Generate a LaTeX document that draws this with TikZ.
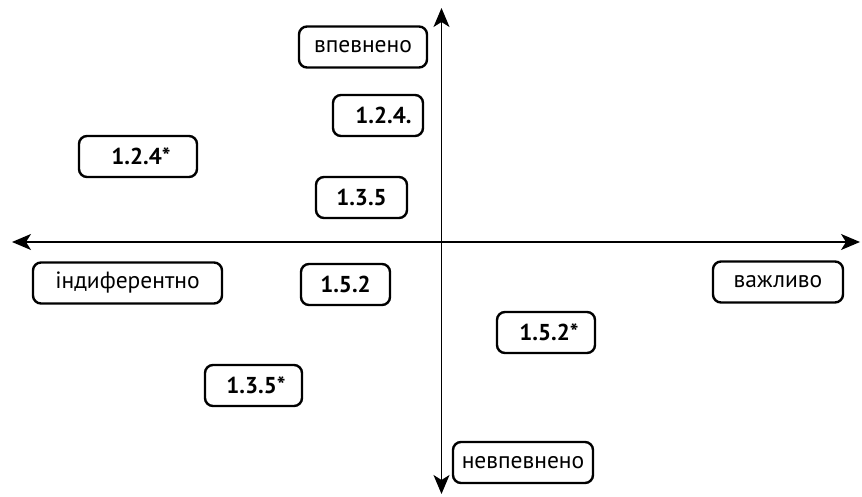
\documentclass[tikz,border=0pt]{standalone}
\usepackage{fontspec}
\setmainfont{PT Sans}
\usetikzlibrary{arrows.meta}
\tikzset{
  box/.style={draw, line width=2.4pt, rounded corners=8pt, inner sep=0pt, minimum height=41pt, font=\fontsize{23.5}{27}\selectfont},
  numbox/.style={box, font=\fontsize{23}{27}\selectfont\bfseries},
  axis/.style={line width=1.3pt, {Stealth[length=19pt,width=16pt,inset=5pt]}-{Stealth[length=19pt,width=16pt,inset=5pt]}}
}
\begin{document}
\begin{tikzpicture}[x=1pt,y=-1pt]
\useasboundingbox (0,0) rectangle (862,497);
\coordinate (top) at (441.5,8);
\coordinate (bottom) at (441.5,494);
\coordinate (left) at (12,242);
\coordinate (right) at (860,242);
\draw[axis] (bottom) -- (top);
\draw[axis] (left) -- (right);
\node[box, minimum width=128pt] (vp) at (363,47) {впевнено};
\node[box, minimum width=140pt] (nvp) at (523,462.5) {невпевнено};
\node[box, minimum width=189pt] (ind) at (127.5,283) {індиферентно};
\node[box, minimum width=130pt] (vazh) at (778,282) {важливо};
\node[numbox, minimum width=90pt] (a) at (378,115.5) {\hspace*{11pt}1.2.4.};
\node[numbox, minimum width=118pt] (b) at (138,156.5) {\hspace*{6pt}1.2.4*};
\node[numbox, minimum width=91pt] (c) at (361.5,197.5) {1.3.5};
\node[numbox, minimum width=89pt] (d) at (345.5,284.5) {1.5.2};
\node[numbox, minimum width=98pt] (e) at (546,332.5) {\hspace*{6pt}1.5.2*};
\node[numbox, minimum width=97pt] (f) at (253.5,385.5) {\hspace*{5pt}1.3.5*};
\end{tikzpicture}
\end{document}
